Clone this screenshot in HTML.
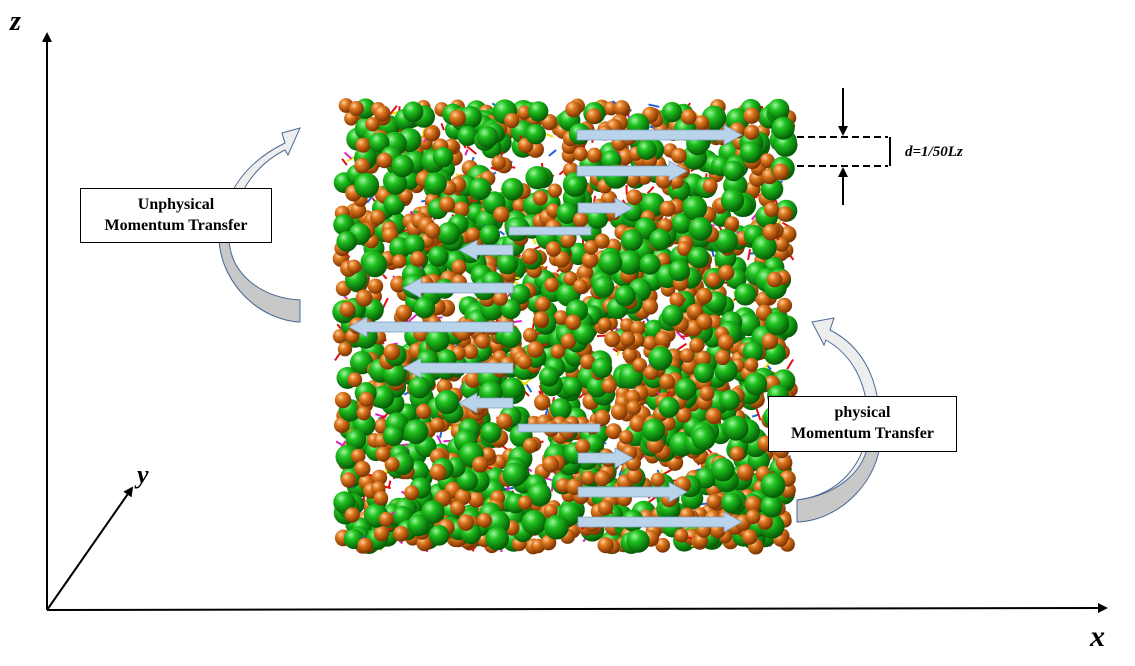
<!DOCTYPE html>
<html><head><meta charset="utf-8"><style>
html,body{margin:0;padding:0;background:#fff;width:1135px;height:666px;overflow:hidden}
.lbl{position:absolute;background:#fff;border:1px solid #000;font-family:"Liberation Serif",serif;font-weight:bold;font-size:16px;text-align:center;line-height:21px;box-sizing:border-box;padding-top:5px}
.ax{position:absolute;font-family:"Liberation Serif",serif;font-weight:bold;font-style:italic}
</style></head><body>
<svg id="s" width="1135" height="666" style="position:absolute;left:0;top:0">
<defs>
<radialGradient id="g" cx="35%" cy="30%" r="70%"><stop offset="0" stop-color="#9ef59e"/><stop offset="0.35" stop-color="#1fc21f"/><stop offset="1" stop-color="#055a05"/></radialGradient>
<radialGradient id="o" cx="35%" cy="30%" r="70%"><stop offset="0" stop-color="#ffd0a0"/><stop offset="0.35" stop-color="#e07a20"/><stop offset="1" stop-color="#7a3200"/></radialGradient>
<marker id="ah" markerWidth="10" markerHeight="10" refX="8" refY="5" orient="auto" markerUnits="userSpaceOnUse"><path d="M0,0 L10,5 L0,10 z" fill="#000"/></marker>
</defs>
<g id="mol"></g>
<g id="arr" fill="#b9d3ea" stroke="#7f9fbf" stroke-width="0.8"></g>
<g stroke="#000" stroke-width="2" fill="none">
<line x1="47" y1="610" x2="47" y2="34" marker-end="url(#ah)"/>
<line x1="47" y1="610" x2="1106" y2="608" marker-end="url(#ah)"/>
<line x1="47" y1="610" x2="132" y2="488" marker-end="url(#ah)"/>
</g>
<g stroke="#000" stroke-width="2" fill="none">
<line x1="797" y1="137" x2="888" y2="137" stroke-dasharray="7,4"/>
<line x1="797" y1="166" x2="888" y2="166" stroke-dasharray="7,4"/>
<line x1="890" y1="137" x2="890" y2="166"/>
<line x1="843" y1="88" x2="843" y2="134" marker-end="url(#ah)"/>
<line x1="843" y1="205" x2="843" y2="169" marker-end="url(#ah)"/>
</g>
<path d="M300,300 L300,322 C260,320 222,285 219,240 C222,190 250,160 285,143 L282,133 L300,128 L288,155 L285,150 C255,165 233,195 229,240 C231,275 262,298 300,300 z" fill="#eeeeee" stroke="#4a6b95" stroke-width="1"/>
<path d="M300,300 L300,322 C260,320 222,285 219,240 L229,240 C231,275 262,298 300,300 z" fill="#c8c8c8" stroke="#4a6b95" stroke-width="1"/>
<path d="M797,500 L797,522 C845,520 880,475 880,420 C878,375 860,345 830,330 L834,318 L812,322 L824,345 L826,340 C852,355 867,382 868,420 C867,465 838,495 797,500 z" fill="#eeeeee" stroke="#4a6b95" stroke-width="1"/>
<path d="M797,500 L797,522 C845,520 880,475 880,440 L868,440 C867,470 838,495 797,500 z" fill="#c8c8c8" stroke="#4a6b95" stroke-width="1"/>
</svg>
<div class="lbl" style="left:80px;top:188px;width:192px;height:55px">Unphysical<br>Momentum Transfer</div>
<div class="lbl" style="left:768px;top:396px;width:189px;height:56px">physical<br>Momentum Transfer</div>
<div class="ax" style="left:10px;top:6px;font-size:28px">z</div>
<div class="ax" style="left:1090px;top:620px;font-size:30px">x</div>
<div class="ax" style="left:137px;top:460px;font-size:26px">y</div>
<div class="ax" style="left:905px;top:144px;font-size:15px">d=1/50Lz</div>
<script>
var NS="http://www.w3.org/2000/svg";
var seed=12345;function r(){seed=(seed*16807)%2147483647;return (seed-1)/2147483646;}
var mol=document.getElementById("mol");
function el(n,a,p){var e=document.createElementNS(NS,n);for(var k in a)e.setAttribute(k,a[k]);(p||mol).appendChild(e);return e;}
var X0=332,X1=798,Y0=98,Y1=555;
var cols=["#e01010","#e01010","#e01010","#f0e000","#e020c0","#2060e0"];
function stick(x,y){var a=r()*6.28,l=5+r()*8;var x2=Math.min(X1-3,Math.max(X0+3,x+Math.cos(a)*l)),y2=Math.min(Y1-3,Math.max(Y0+3,y+Math.sin(a)*l));
el("line",{x1:x,y1:y,x2:x2,y2:y2,stroke:cols[Math.floor(r()*6)],"stroke-width":2});}
for(var i=0;i<1000;i++){stick(X0+8+r()*(X1-X0-16),Y0+8+r()*(Y1-Y0-16));}
for(var i=0;i<1700;i++){var gr=r()<0.42;var rad=gr?(10+r()*2.5):(7+r()*1.5);
var x=X0+rad+r()*(X1-X0-2*rad),y=Y0+rad+r()*(Y1-Y0-2*rad);
if(r()<0.3)stick(x,y);
el("circle",{cx:x.toFixed(1),cy:y.toFixed(1),r:rad.toFixed(1),fill:gr?"url(#g)":"url(#o)"});}
var arr=document.getElementById("arr");
function ar(x1,x2,y){var h=10,w=5,dir=x2>x1?1:-1,hx=x2-dir*18;
el("path",{d:"M"+x1+","+(y-w)+" L"+hx+","+(y-w)+" L"+hx+","+(y-h)+" L"+x2+","+y+" L"+hx+","+(y+h)+" L"+hx+","+(y+w)+" L"+x1+","+(y+w)+" z"},arr);}
ar(577,742,135);ar(577,687,171);ar(578,633,208);
el("rect",{x:509,y:227,width:82,height:8},arr);
ar(513,459,250);ar(513,403,288);ar(513,349,327);ar(513,403,368);ar(513,459,403);
el("rect",{x:518,y:424,width:82,height:8},arr);
ar(578,633,458);ar(578,687,492);ar(578,742,522);
</script>
</body></html>
